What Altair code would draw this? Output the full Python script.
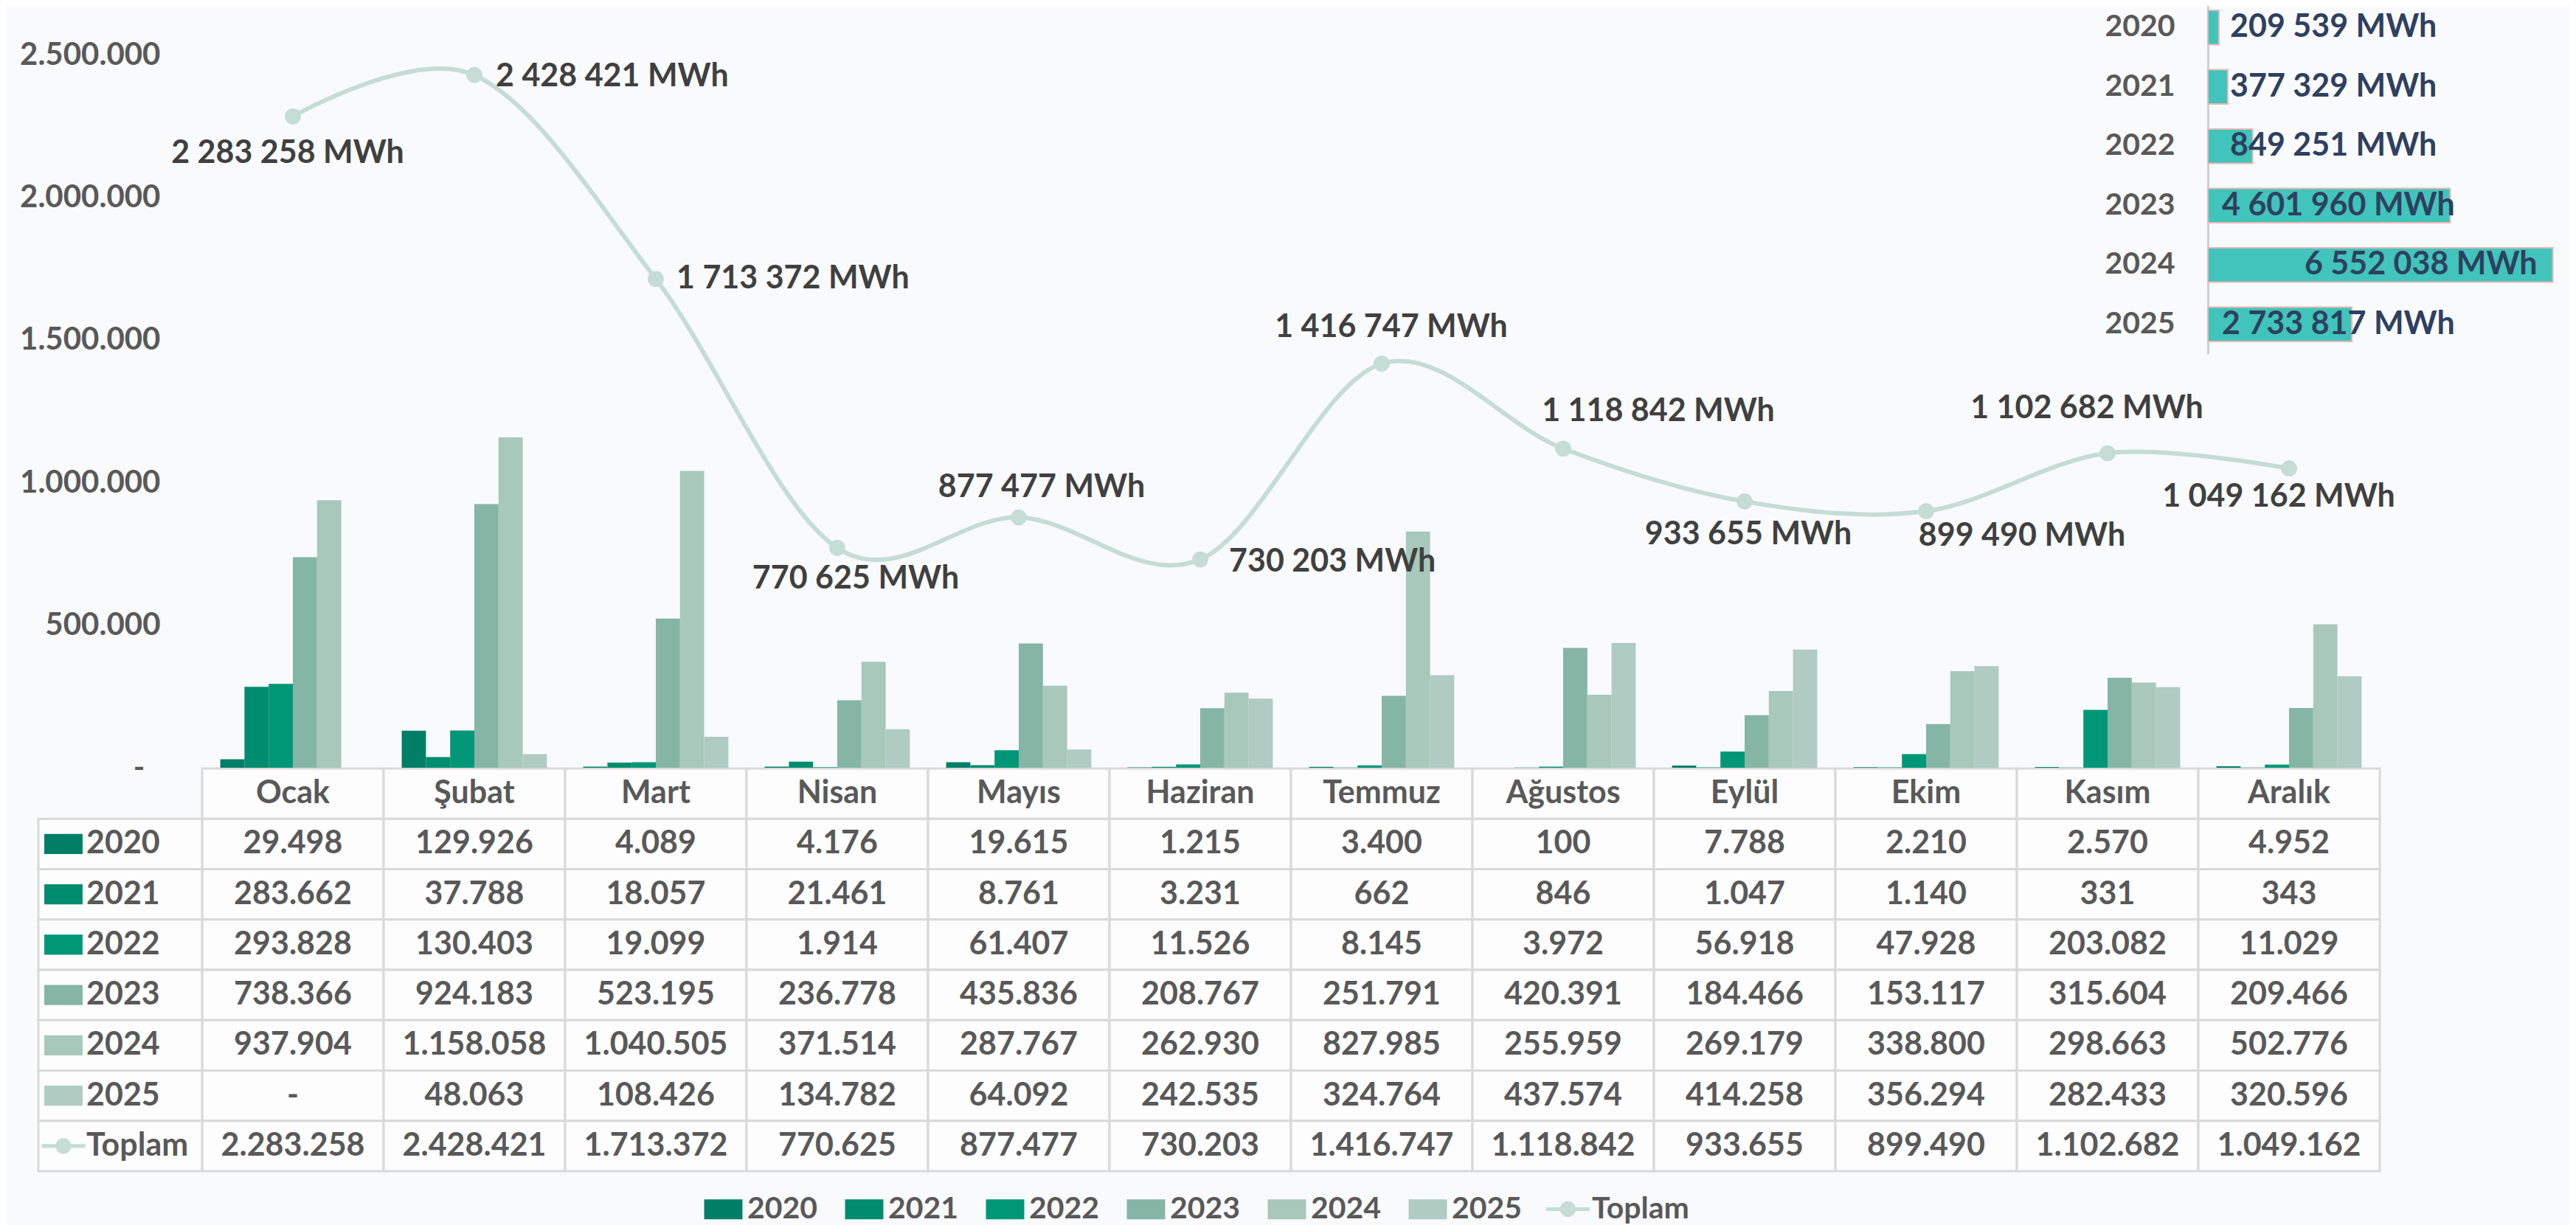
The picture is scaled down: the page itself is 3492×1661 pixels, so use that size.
import altair as alt
import pandas as pd

MONTHS = ["Ocak", "Şubat", "Mart", "Nisan", "Mayıs", "Haziran", "Temmuz",
          "Ağustos", "Eylül", "Ekim", "Kasım", "Aralık"]
YEARS = ["2020", "2021", "2022", "2023", "2024", "2025"]
V2020 = [29498, 129926, 4089, 4176, 19615, 1215, 3400, 100, 7788, 2210, 2570, 4952]
V2021 = [283662, 37788, 18057, 21461, 8761, 3231, 662, 846, 1047, 1140, 331, 343]
V2022 = [293828, 130403, 19099, 1914, 61407, 11526, 8145, 3972, 56918, 47928, 203082, 11029]
V2023 = [738366, 924183, 523195, 236778, 435836, 208767, 251791, 420391, 184466, 153117, 315604, 209466]
V2024 = [937904, 1158058, 1040505, 371514, 287767, 262930, 827985, 255959, 269179, 338800, 298663, 502776]
V2025 = [None, 48063, 108426, 134782, 64092, 242535, 324764, 437574, 414258, 356294, 282433, 320596]
TOTALS = [2283258, 2428421, 1713372, 770625, 877477, 730203, 1416747, 1118842,
          933655, 899490, 1102682, 1049162]
YEAR_TOTALS = [209539, 377329, 849251, 4601960, 6552038, 2733817]
Y_TICKS = [0, 500000, 1000000, 1500000, 2000000, 2500000]

YEAR_COLORS = ["#007F66", "#008C6E", "#009777", "#85B5A5", "#A7C8BB", "#AFCBC2"]
TOPLAM_COLOR = "#C5DDD4"
INSET_COLOR = "#40C4BB"
TEXT_GRAY = "#595959"
FONT = "Lato"

RECT_SHAPE = "M-0.88,-0.46H0.88V0.46H-0.88Z"
TOPLAM_SHAPE = ("M-1,-0.085H-0.35A0.36,0.36 0 0 1 0.35,-0.085H1V0.085H0.35"
                "A0.36,0.36 0 0 1 -0.35,0.085H-1Z")

series_values = [V2020, V2021, V2022, V2023, V2024, V2025]
GROUP_PAD = 0.1          # fraction of a month step left empty on each side
BAR_W = (1 - 2 * GROUP_PAD) / len(YEARS)


def dots(v):
    return f"{v:,}".replace(",", ".")


def spaces(v):
    return f"{v:,}".replace(",", " ") + " MWh"


bars_df = pd.DataFrame([
    {"month": m, "series": y, "mi": i, "yi": j, "value": vals[i]}
    for j, (y, vals) in enumerate(zip(YEARS, series_values))
    for i, m in enumerate(MONTHS) if vals[i] is not None
])
tot_df = pd.DataFrame({"month": MONTHS, "mi": list(range(12)), "total": TOTALS,
                       "name": ["Toplam"] * 12, "label": [spaces(v) for v in TOTALS]})

ROWS = ["hdr"] + YEARS + ["Toplam"]
table_rows = []
for m in MONTHS:
    table_rows.append({"row": "hdr", "month": m, "text": m})
for y, vals in zip(YEARS, series_values):
    for i, m in enumerate(MONTHS):
        table_rows.append({"row": y, "month": m,
                           "text": "-" if vals[i] is None else dots(vals[i])})
for i, m in enumerate(MONTHS):
    table_rows.append({"row": "Toplam", "month": m, "text": dots(TOTALS[i])})
table_df = pd.DataFrame(table_rows)

rl_df = pd.DataFrame({"row": YEARS + ["Toplam"], "series": YEARS + ["Toplam"]})

inset_df = pd.DataFrame({"year": YEARS, "total": YEAR_TOTALS,
                         "label": [spaces(v) for v in YEAR_TOTALS]})

# ---------------- main chart (linear month axis: one unit per month) ----------------
x_main_scale = alt.Scale(domain=[0, 12], nice=False, zero=False)
y_scale = alt.Scale(domain=[0, 2500000], nice=False, zero=True)
label_expr = ("datum.value == 0 ? '-' : "
              "replace(replace(format(datum.value, ','), ',', '.'), ',', '.')")
y_axis = alt.Axis(values=Y_TICKS, labelExpr=label_expr, orient="left", ticks=False,
                  domain=False, grid=False,
                  labelPadding={"condition": {"test": "datum.value == 0", "value": 78},
                                "value": 57},
                  labelFontSize=42, labelLimit=0, labelFont=FONT, labelFontWeight="bold",
                  labelColor=TEXT_GRAY, title=None)

legend_common = dict(orient="none", legendY=1536, direction="horizontal", title=None,
                     symbolSize=3481, labelFontSize=41, labelFont=FONT, labelLimit=0,
                     labelFontWeight="bold", labelColor=TEXT_GRAY, labelOffset=3,
                     columnPadding=33, symbolStrokeWidth=0, symbolOpacity=1)

fill_scale = alt.Scale(domain=YEARS, range=YEAR_COLORS)
bars = alt.Chart(bars_df).transform_calculate(
    x0=f"datum.mi + {GROUP_PAD} + datum.yi * {BAR_W}",
    x1=f"datum.mi + {GROUP_PAD} + (datum.yi + 1) * {BAR_W}",
    base="0",
).mark_rect().encode(
    x=alt.X("x0:Q", scale=x_main_scale, axis=None),
    x2="x1:Q",
    y=alt.Y("value:Q", scale=y_scale, axis=y_axis),
    y2="base:Q",
    fill=alt.Fill("series:N", scale=fill_scale,
                  legend=alt.Legend(legendX=677, symbolType=RECT_SHAPE, **legend_common)),
)

x_center = alt.X("xc:Q", scale=x_main_scale, axis=None)
y_tot = alt.Y("total:Q", scale=y_scale, axis=None)
tot_base = alt.Chart(tot_df).transform_calculate(xc="datum.mi + 0.5")
line = tot_base.mark_line(interpolate="cardinal", strokeWidth=6).encode(
    x=x_center, y=y_tot,
    stroke=alt.Stroke("name:N", scale=alt.Scale(domain=["Toplam"], range=[TOPLAM_COLOR]),
                      legend=alt.Legend(legendX=1822, symbolType=TOPLAM_SHAPE,
                                        symbolFillColor=TOPLAM_COLOR, **legend_common)))
points = tot_base.mark_circle(size=470, color=TOPLAM_COLOR, opacity=1).encode(
    x=x_center, y=y_tot)

LABEL_OFFSETS = {
    "Ocak": ("center", -7, 50), "Şubat": ("left", 29, 2), "Mart": ("left", 28, 0),
    "Nisan": ("center", 25, 42), "Mayıs": ("center", 31, -41), "Haziran": ("left", 39, 3),
    "Temmuz": ("center", 13, -49), "Ağustos": ("center", 129, -50),
    "Eylül": ("center", 5, 45), "Ekim": ("center", 130, 34),
    "Kasım": ("center", -28, -60), "Aralık": ("center", -14, 39),
}
label_layers = []
for m in MONTHS:
    al, dx, dy = LABEL_OFFSETS[m]
    label_layers.append(
        tot_base.transform_filter(alt.datum.month == m).mark_text(
            align=al, dx=dx, dy=dy, fontSize=43, font=FONT, fontWeight="bold",
            color="#404040").encode(x=x_center, y=y_tot, text="label:N"))

# ---------------- table ----------------
y_tab = alt.Y("row:N", sort=ROWS,
              scale=alt.Scale(domain=ROWS, range=[968, 1514], paddingInner=0, paddingOuter=0),
              axis=None)
x_tab = alt.X("month:N", sort=MONTHS,
              scale=alt.Scale(domain=MONTHS, paddingInner=0, paddingOuter=0), axis=None)
cells = alt.Chart(table_df).mark_rect(fill="#FFFFFF", fillOpacity=0.6, stroke="#D9D9D9",
                                      strokeWidth=3).encode(x=x_tab, y=y_tab)
cell_text = alt.Chart(table_df).mark_text(fontSize=43, font=FONT, fontWeight="bold",
                                          color=TEXT_GRAY).encode(x=x_tab, y=y_tab, text="text:N")

# row-label column: a 0..1 scale mapped onto the strip left of the plot
x_rl_scale = alt.Scale(domain=[0, 1], range=[-222, 0], nice=False, zero=False)
rl_base = alt.Chart(rl_df).transform_calculate(c0="0", c1="1")
rl_cells = rl_base.mark_rect(fill="#FFFFFF", fillOpacity=0.6, stroke="#D9D9D9",
                             strokeWidth=3).encode(
    x=alt.X("c0:Q", scale=x_rl_scale, axis=None), x2="c1:Q", y=y_tab)
rl_keys = rl_base.transform_filter(alt.datum.row != "Toplam").mark_point(
    filled=True, size=3481, opacity=1, strokeWidth=0, xOffset=34, shape=RECT_SHAPE).encode(
    x=alt.X("c0:Q", scale=x_rl_scale, axis=None), y=y_tab,
    fill=alt.Fill("series:N", scale=fill_scale))
rl_key_tot = rl_base.transform_filter(alt.datum.row == "Toplam").mark_point(
    filled=True, size=3481, opacity=1, strokeWidth=0, xOffset=34, shape=TOPLAM_SHAPE,
    color=TOPLAM_COLOR).encode(x=alt.X("c0:Q", scale=x_rl_scale, axis=None), y=y_tab)
rl_text = rl_base.mark_text(align="left", dx=65, fontSize=43, font=FONT,
                            fontWeight="bold", color=TEXT_GRAY).encode(
    x=alt.X("c0:Q", scale=x_rl_scale, axis=None), y=y_tab, text="row:N")

# ---------------- inset ----------------
x_in_scale = alt.Scale(domain=[0, 6600000], range=[2719, 3190], nice=False, zero=True)
y_in_scale = alt.Scale(domain=YEARS, range=[-77, 406], paddingInner=0.42, paddingOuter=0.21)
y_in_axis = alt.Axis(orient="left", offset=-2719, domainColor="#D0D0D0", domainWidth=3,
                     ticks=False, labelPadding=45, labelFontSize=41, labelFont=FONT,
                     labelFontWeight="bold", labelColor=TEXT_GRAY, title=None, grid=False)
inset_base = alt.Chart(inset_df).transform_calculate(base="0")
inset_bars = inset_base.mark_bar(fill=INSET_COLOR, stroke="#E8B8B8", strokeWidth=2).encode(
    x=alt.X("total:Q", scale=x_in_scale, axis=None),
    y=alt.Y("year:N", sort=YEARS, scale=y_in_scale, axis=y_in_axis))
y_in = alt.Y("year:N", sort=YEARS, scale=y_in_scale, axis=None)
inset_small = inset_base.transform_filter(alt.datum.total < 1000000).mark_text(
    align="left", dx=30, fontSize=43, font=FONT, fontWeight="bold", color="#2F4060").encode(
    x=alt.X("base:Q", scale=x_in_scale, axis=None), y=y_in, text="label:N")
inset_mid = inset_base.transform_filter(
    (alt.datum.total >= 1000000) & (alt.datum.total < 5000000)).mark_text(
    align="left", dx=19, fontSize=43, font=FONT, fontWeight="bold", color="#2F4060").encode(
    x=alt.X("base:Q", scale=x_in_scale, axis=None), y=y_in, text="label:N")
inset_big = inset_base.transform_filter(alt.datum.total >= 5000000).mark_text(
    align="right", dx=-21, fontSize=43, font=FONT, fontWeight="bold", color="#2F4060").encode(
    x=alt.X("total:Q", scale=x_in_scale, axis=None), y=y_in, text="label:N")

chart = alt.layer(
    cells, cell_text, rl_cells, rl_keys, rl_key_tot, rl_text,
    bars, line, points, *label_layers,
    inset_bars, inset_small, inset_mid, inset_big,
).resolve_scale(x="independent", y="independent").properties(
    width=2952, height=967,
    padding={"left": 266, "top": 66, "right": 258, "bottom": 628},
    autosize=alt.AutoSizeParams(type="none"),
    background="#F9FAFB",
).configure_view(strokeWidth=0)

chart.save("out.html", embed_options={"renderer": "svg", "actions": False})
